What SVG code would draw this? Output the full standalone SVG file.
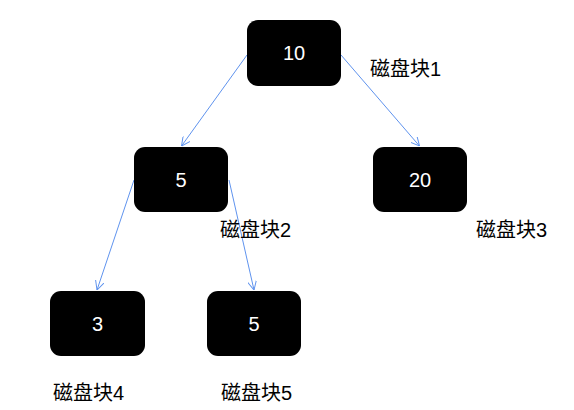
<svg xmlns="http://www.w3.org/2000/svg" width="574" height="410" viewBox="0 0 574 410">
<defs>
<style>
.box{fill:#000;}
.num{fill:#fff;font-family:"Liberation Sans",Arial,sans-serif;font-size:20px;text-anchor:middle;}
.lbl{fill:#000;font-family:"Liberation Sans","Noto Sans CJK SC",sans-serif;font-size:20px;}
.edge{stroke:#5f93ee;stroke-width:1;fill:none;marker-end:url(#arr);}
</style>
<marker id="arr" viewBox="0 0 10 10" refX="10" refY="5" markerWidth="9" markerHeight="9" markerUnits="userSpaceOnUse" orient="auto">
<path d="M0,0 L10,5 L0,10" fill="none" stroke="#5f93ee" stroke-width="1.1"/>
</marker>
</defs>
<rect width="574" height="410" fill="#fff"/>
<g id="connectors">
<line class="edge" x1="247" y1="55" x2="181.5" y2="146"/>
<line class="edge" x1="341" y1="55" x2="419.5" y2="146"/>
<line class="edge" x1="134" y1="180" x2="97" y2="290"/>
<line class="edge" x1="229" y1="180" x2="254" y2="290"/>
</g>
<g id="n10"><rect class="box" x="247" y="20" width="94" height="66" rx="11"/><text class="num" x="294" y="60">10</text></g>
<g id="n5a"><rect class="box" x="134" y="147" width="94" height="65" rx="11"/><text class="num" x="181" y="187">5</text></g>
<g id="n20"><rect class="box" x="373" y="147" width="94" height="65" rx="11"/><text class="num" x="420" y="187">20</text></g>
<g id="n3"><rect class="box" x="50" y="291" width="95" height="65" rx="11"/><text class="num" x="97.5" y="331">3</text></g>
<g id="n5b"><rect class="box" x="207" y="291" width="94" height="65" rx="11"/><text class="num" x="254" y="331">5</text></g>
<g id="labels">
<text class="lbl" x="370" y="76">磁盘块1</text>
<text class="lbl" x="220" y="237">磁盘块2</text>
<text class="lbl" x="476" y="237">磁盘块3</text>
<text class="lbl" x="53" y="400">磁盘块4</text>
<text class="lbl" x="221" y="400">磁盘块5</text>
</g>
</svg>
